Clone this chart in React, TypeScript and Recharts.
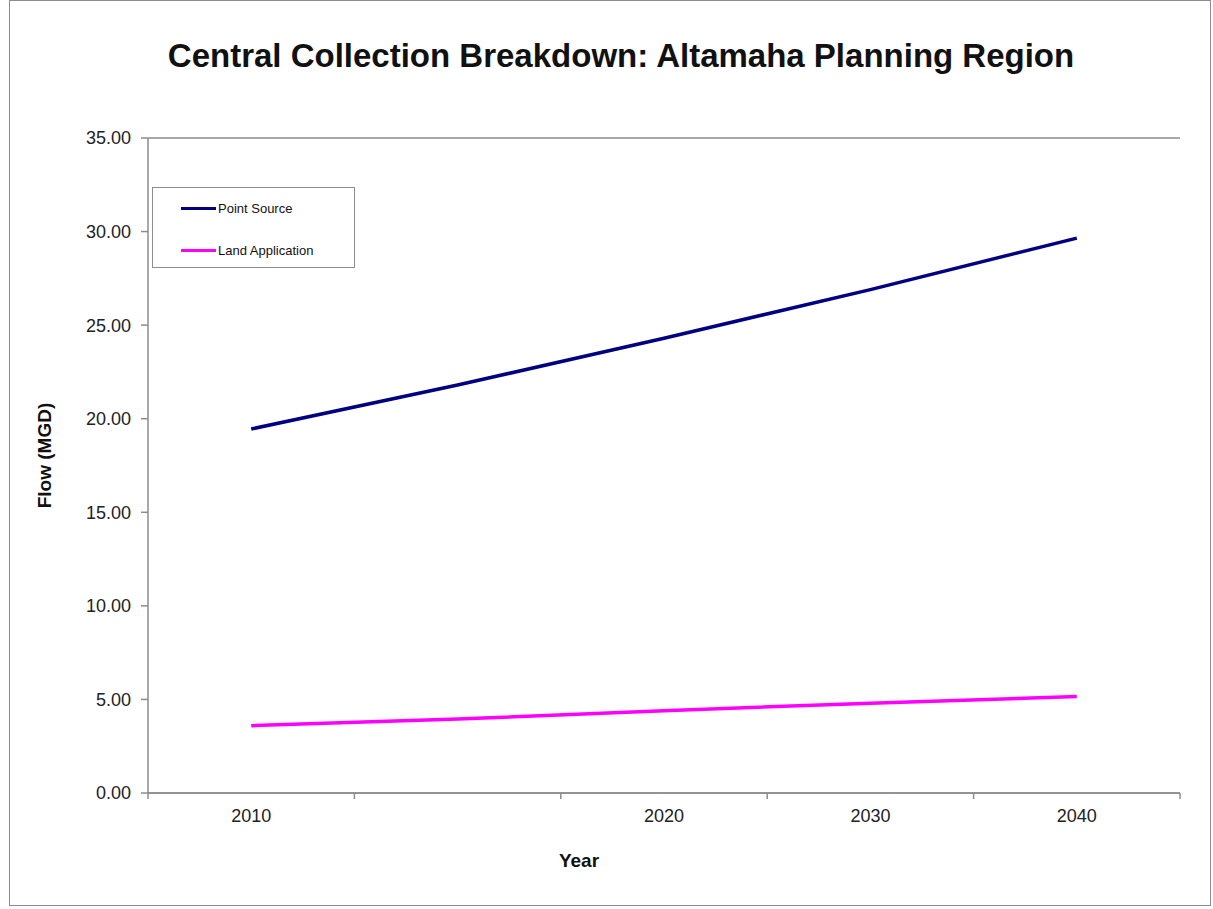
import React from 'react';
import {
  LineChart,
  Line,
  XAxis,
  YAxis,
  CartesianGrid,
  Legend,
} from 'recharts';

const years = ['2010', '', '2020', '2030', '2040'];
const pointSource = [19.45, 21.8, 24.3, 26.9, 29.65];
const landApplication = [3.6, 3.95, 4.4, 4.8, 5.15];
const seriesNames = ['Point Source', 'Land Application'];
const yTicks = [0, 5, 10, 15, 20, 25, 30, 35];
const bandEdges = [0, 1, 2, 3, 4, 5];

const data = years.map((year, i) => ({
  year,
  slot: i + 0.5,
  pointSource: pointSource[i],
  landApplication: landApplication[i],
}));

const FONT = '"Liberation Sans", Arial, sans-serif';
const AXIS_GRAY = '#8c8c8c';

const LegendBox = (props: any) => {
  const payload = [...(props.payload || [])].sort(
    (a: any, b: any) => seriesNames.indexOf(a.value) - seriesNames.indexOf(b.value)
  );
  return (
    <div
      style={{
        width: 203,
        height: 81,
        boxSizing: 'border-box',
        border: `1px solid ${AXIS_GRAY}`,
        background: '#fff',
        paddingTop: 9,
        paddingLeft: 28,
        fontFamily: FONT,
        fontSize: 13,
        color: '#111',
        textAlign: 'left',
      }}
    >
      {payload.map((p: any) => (
        <div
          key={p.value}
          style={{ display: 'flex', alignItems: 'center', height: 22, marginBottom: 20 }}
        >
          <span style={{ display: 'inline-block', width: 35, height: 3, background: p.color }} />
          <span style={{ marginLeft: 2 }}>{p.value}</span>
        </div>
      ))}
    </div>
  );
};

const FlowLabel = (props: any) => {
  const { x, y, height } = props.viewBox;
  const cx = x + 34;
  const cy = y + height / 2 - 10;
  return (
    <text
      x={cx}
      y={cy}
      transform={`rotate(-90, ${cx}, ${cy})`}
      textAnchor="middle"
      dominantBaseline="central"
      fontFamily={FONT}
      fontWeight="bold"
      fontSize={19}
      fill="#111"
    >
      Flow (MGD)
    </text>
  );
};

const YearLabel = (props: any) => {
  const { x, y, width } = props.viewBox;
  return (
    <text
      x={x + width / 2 - 85}
      y={y + 66}
      textAnchor="middle"
      dominantBaseline="central"
      fontFamily={FONT}
      fontWeight="bold"
      fontSize={19}
      fill="#111"
    >
      Year
    </text>
  );
};

const NoTickLabel = () => <g />;

export default function App() {
  return (
    <div
      style={{
        position: 'absolute',
        left: 9,
        top: 0,
        width: 1200,
        height: 904,
        border: `1px solid ${AXIS_GRAY}`,
        background: '#fff',
      }}
    >
      <div
        style={{
          position: 'absolute',
          top: 38,
          left: 0,
          width: 1200,
          paddingLeft: 22,
          boxSizing: 'border-box',
          textAlign: 'center',
          fontFamily: FONT,
          fontWeight: 'bold',
          fontSize: 33,
          lineHeight: '33px',
          color: '#111',
        }}
      >
        Central Collection Breakdown: Altamaha Planning Region
      </div>
      <LineChart
        width={1200}
        height={904}
        data={data}
        margin={{ top: 137, right: 30, bottom: 31, left: 0 }}
      >
        <CartesianGrid vertical={false} stroke={AXIS_GRAY} strokeWidth={1.5} />
        {/* tick marks between categories, like the Excel axis */}
        <XAxis
          xAxisId={0}
          type="number"
          dataKey="slot"
          domain={[0, 5]}
          ticks={bandEdges}
          interval={0}
          tick={NoTickLabel}
          tickLine={{ stroke: AXIS_GRAY, strokeWidth: 1.5 }}
          tickSize={6}
          height={1}
          stroke={AXIS_GRAY}
          strokeWidth={1.5}
          allowDataOverflow
        />
        <XAxis
          xAxisId="main"
          dataKey="year"
          scale="band"
          height={80}
          axisLine={false}
          tickLine={false}
          tickSize={6}
          tickMargin={9}
          interval={0}
          tick={{ fontSize: 18, fontFamily: FONT, fill: '#222' }}
          label={YearLabel}
        />
        <YAxis
          yAxisId="left"
          width={138}
          domain={[0, 35]}
          ticks={yTicks}
          tickFormatter={(v: number) => v.toFixed(2)}
          tickSize={7}
          tickMargin={10}
          stroke={AXIS_GRAY}
          strokeWidth={1.5}
          tick={{ fontSize: 18, fontFamily: FONT, fill: '#222' }}
          label={FlowLabel}
        />
        <YAxis
          yAxisId="right"
          orientation="right"
          width={0}
          domain={[0, 35]}
          tick={false}
          tickLine={false}
          stroke={AXIS_GRAY}
          strokeWidth={1.5}
        />
        <Legend
          content={LegendBox}
          layout="horizontal"
          align="center"
          verticalAlign="middle"
          wrapperStyle={{ left: 142, top: 186, width: 203, height: 81 }}
        />
        <Line
          xAxisId="main"
          yAxisId="left"
          type="linear"
          dataKey="pointSource"
          name="Point Source"
          stroke="#000080"
          strokeWidth={3.5}
          dot={false}
          activeDot={false}
          isAnimationActive={false}
        />
        <Line
          xAxisId="main"
          yAxisId="left"
          type="linear"
          dataKey="landApplication"
          name="Land Application"
          stroke="#ff00ff"
          strokeWidth={3.5}
          dot={false}
          activeDot={false}
          isAnimationActive={false}
        />
      </LineChart>
    </div>
  );
}
